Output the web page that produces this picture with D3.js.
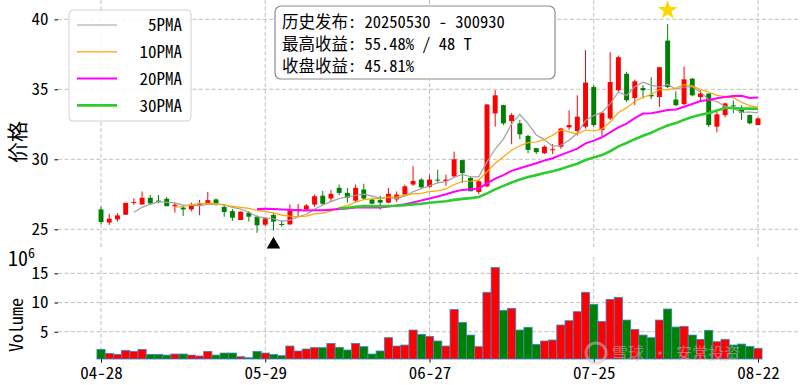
<!DOCTYPE html>
<html>
<head>
<meta charset="utf-8">
<script src="https://cdn.jsdelivr.net/npm/d3@7"></script>
<style>
  body { margin: 0; background: #fff; }
  svg { display: block; }
  text { font-family: "Noto Sans Mono CJK SC", "Noto Sans CJK SC", "DejaVu Sans", sans-serif; fill: #000; }
</style>
</head>
<body>
<svg id="chart" width="800" height="385"></svg>
<script>
"use strict";

// daily candles, 2025-04-28 .. 2025-08-22 (index = trading day)
const opens  = [26.42,25.48,25.71,26.04,26.90,26.77,27.25,27.05,27.18,26.65,26.55,26.42,26.75,26.80,27.13,26.60,26.30,25.66,26.18,25.90,
                25.33,26.02,25.38,25.35,26.35,26.42,26.77,27.40,27.20,27.96,27.60,27.05,27.84,27.13,27.10,26.90,27.13,27.48,28.20,28.55,
                28.03,28.55,28.45,28.78,29.94,28.67,27.67,28.07,33.28,33.87,32.73,32.57,31.67,30.80,30.44,30.65,30.90,32.28,32.02,32.33,
                35.16,32.09,32.92,34.93,36.11,34.38,35.09,34.60,34.45,38.48,34.27,33.94,35.76,34.45,34.70,32.33,33.16,33.85,33.63,33.16,32.45];
const highs  = [26.60,26.10,26.15,26.90,27.22,27.70,27.45,27.45,27.30,26.90,26.70,26.90,27.10,27.67,27.20,26.80,26.45,26.26,26.30,26.00,
                25.87,26.20,25.65,26.77,26.80,26.80,27.48,27.74,27.80,28.20,27.95,28.20,28.25,27.25,27.40,27.95,27.70,28.20,29.50,28.65,
                28.90,29.26,28.90,30.55,29.94,28.80,28.55,33.92,34.93,33.90,33.30,32.80,31.74,30.80,30.99,31.10,32.25,33.50,34.57,37.80,
                35.30,33.32,37.65,37.40,36.25,35.70,35.30,35.87,36.60,39.66,34.86,36.63,35.80,34.93,34.70,33.40,34.05,34.20,33.85,33.20,33.00];
const lows   = [25.35,25.30,25.55,26.04,26.75,26.77,26.84,26.85,26.65,26.20,25.95,26.28,26.00,26.75,26.70,25.90,25.60,25.66,25.55,24.75,
                25.23,24.90,25.20,25.30,25.95,26.35,26.60,26.70,26.95,27.45,26.90,26.95,27.10,26.78,26.40,26.85,26.95,27.48,28.10,27.95,
                27.97,28.30,28.10,28.70,28.31,27.72,27.50,28.00,32.33,32.45,31.08,31.45,30.43,30.38,30.38,30.37,30.75,32.10,31.70,32.20,
                32.30,31.67,32.80,34.80,34.10,33.87,34.34,34.30,33.74,35.10,33.80,33.87,34.50,34.22,32.30,31.93,33.00,33.30,32.80,32.50,32.45];
const closes = [25.52,25.76,25.99,26.89,26.95,27.25,26.84,26.95,26.65,26.75,26.42,26.75,26.85,27.08,26.84,26.23,25.83,26.26,25.90,25.28,
                25.78,25.55,25.33,26.35,26.45,26.70,27.36,26.82,27.53,27.60,27.25,27.96,27.20,26.83,26.90,27.53,27.48,28.07,28.45,28.00,
                28.55,28.48,28.55,30.00,29.02,27.72,28.43,33.92,34.57,32.57,33.16,31.79,30.67,30.51,30.90,30.72,32.20,32.45,33.04,35.48,
                32.45,33.32,35.52,37.29,34.22,35.57,34.93,34.50,36.58,35.16,33.87,35.71,34.57,34.70,32.45,33.21,33.99,33.80,33.32,32.57,32.92];
// volume in 10^6 shares
const volumes = [1.98,1.30,1.13,1.80,1.64,1.98,1.13,1.13,1.00,1.18,1.18,1.00,0.84,1.64,1.00,1.35,1.35,0.72,0.55,1.64,
                 1.35,1.10,0.90,2.55,1.70,2.04,2.27,2.27,3.00,2.33,1.87,3.00,2.44,1.18,1.70,3.98,2.55,2.72,5.29,4.55,
                 4.20,3.41,2.55,8.83,6.60,4.43,2.44,11.75,16.00,8.66,9.00,5.29,5.75,2.84,3.41,3.58,6.15,6.89,8.43,11.75,
                 9.69,6.78,10.55,10.89,7.00,5.41,4.43,3.98,7.00,8.89,5.80,5.92,4.43,3.70,5.24,3.29,3.70,2.72,2.89,2.50,2.16];

const tickIndex = [0, 20, 40, 60, 80];
const tickLabels = ["04-28", "05-29", "06-27", "07-25", "08-22"];
const priceTicks = [25, 30, 35, 40];
const volumeTicks = [5, 10, 15];

const maWindows = [5, 10, 20, 30];
const maNames = ["5PMA", "10PMA", "20PMA", "30PMA"];
const maColors = ["#a0a0a0", "#ffa500", "#ff00ff", "#2ecc2e"];
const maWidths = [1.2, 1.2, 2, 2.6];

const buyIndex = 21;   // 05-30 release date
const peakIndex = 69;  // highest gain day
const infoLines = ["历史发布: 20250530 - 300930", "最高收益: 55.48% / 48 T", "收盘收益: 45.81%"];

const svg = d3.select("#chart");
const left = 58, right = 801;
const priceTop = 0, priceBottom = 250;
const volTop = 257, volBottom = 359;

const x = d3.scaleLinear().domain([-5.24, 85.24]).range([left, right]);
const yPrice = d3.scaleLinear().domain([23.52, 41.38]).range([priceBottom, priceTop]);
const yVol = d3.scaleLinear().domain([0.33, 17.8]).range([volBottom, volTop]);
const step = x(1) - x(0);

const up = i => closes[i] >= opens[i];
const red = "#ff0000", green = "#008000";
const gridColor = "#b8b8b8";

// grid lines
const grid = svg.append("g").attr("stroke", gridColor).attr("stroke-dasharray", "4,2.4").attr("stroke-width", 0.9);
tickIndex.forEach(t => {
  grid.append("line").attr("x1", x(t)).attr("x2", x(t)).attr("y1", priceTop).attr("y2", priceBottom);
  grid.append("line").attr("x1", x(t)).attr("x2", x(t)).attr("y1", volTop).attr("y2", volBottom);
});
priceTicks.forEach(p => grid.append("line").attr("x1", left).attr("x2", right).attr("y1", yPrice(p)).attr("y2", yPrice(p)));
volumeTicks.forEach(v => grid.append("line").attr("x1", left).attr("x2", right).attr("y1", yVol(v)).attr("y2", yVol(v)));

// y axes (tick marks + labels, no spine)
let axPrice = svg.append("g").attr("transform", `translate(${left},0)`)
  .call(d3.axisLeft(yPrice).tickValues(priceTicks).tickSize(3.5).tickPadding(6));
let axVol = svg.append("g").attr("transform", `translate(${left},0)`)
  .call(d3.axisLeft(yVol).tickValues(volumeTicks).tickSize(3.5).tickPadding(6));
let axX = svg.append("g").attr("transform", `translate(0,${volBottom})`)
  .call(d3.axisBottom(x).tickValues(tickIndex).tickFormat((d, i) => tickLabels[i]).tickSize(3.5).tickPadding(4));
[axPrice, axVol, axX].forEach(a => {
  a.select(".domain").remove();
  a.selectAll("text").attr("font-size", 17).style("font-family", null);
  a.selectAll("line").attr("stroke", "#000");
});

// volume bars
svg.append("g").selectAll("rect")
  .data(volumes)
  .enter()
  .append("rect")
  .attr("x", (d, i) => x(i) - step / 2)
  .attr("width", step)
  .attr("y", d => yVol(d))
  .attr("height", d => volBottom - yVol(d))
  .attr("fill", (d, i) => up(i) ? red : green)
  .attr("stroke", "#3a86c8")
  .attr("stroke-width", 0.8);

// candles
const candles = svg.append("g").selectAll("g")
  .data(d3.range(closes.length))
  .enter()
  .append("g")
  .attr("stroke", i => up(i) ? red : green)
  .attr("fill", i => up(i) ? red : green);
candles.append("line")
  .attr("x1", i => x(i)).attr("x2", i => x(i))
  .attr("y1", i => yPrice(highs[i])).attr("y2", i => yPrice(lows[i]))
  .attr("stroke-width", 1);
candles.append("rect")
  .attr("x", i => x(i) - step * 0.3)
  .attr("width", step * 0.6)
  .attr("y", i => yPrice(Math.max(opens[i], closes[i])))
  .attr("height", i => Math.max(1, Math.abs(yPrice(opens[i]) - yPrice(closes[i]))))
  .attr("stroke", "none");

// moving averages of the close
maWindows.forEach((w, k) => {
  let pts = [];
  for (let i = w - 1; i < closes.length; i++) {
    pts.push([i, d3.mean(closes.slice(i - w + 1, i + 1))]);
  }
  svg.append("path")
    .attr("d", d3.line().x(d => x(d[0])).y(d => yPrice(d[1]))(pts))
    .attr("fill", "none")
    .attr("stroke", maColors[k])
    .attr("stroke-width", maWidths[k]);
});

// markers: release day and best day
svg.append("path")
  .attr("d", d3.symbol(d3.symbolTriangle, 80)())
  .attr("transform", `translate(${x(buyIndex)},${yPrice(lows[buyIndex] * 0.96)})`)
  .attr("fill", "#000");
svg.append("path")
  .attr("d", d3.symbol(d3.symbolStar, 120)())
  .attr("transform", `translate(${x(peakIndex)},${yPrice(highs[peakIndex] * 1.025)})`)
  .attr("fill", "#ffd700");

// legend
const legend = svg.append("g");
legend.append("rect").attr("x", 69).attr("y", 10).attr("width", 122).attr("height", 111)
  .attr("rx", 4).attr("fill", "#fff").attr("fill-opacity", 0.85).attr("stroke", "#d0d0d0");
maNames.forEach((n, k) => {
  let ly = 25 + k * 26.8;
  legend.append("line").attr("x1", 77).attr("x2", 117).attr("y1", ly).attr("y2", ly)
    .attr("stroke", maColors[k]).attr("stroke-width", maWidths[k]);
  legend.append("text").attr("x", 182).attr("y", ly).attr("dy", "0.36em")
    .attr("text-anchor", "end").attr("font-size", 17).text(n);
});

// info box
const info = svg.append("g");
info.append("rect").attr("x", 275).attr("y", 6).attr("width", 280).attr("height", 73)
  .attr("rx", 6).attr("fill", "#fff").attr("stroke", "#8c8c8c").attr("stroke-width", 1.2);
infoLines.forEach((t, k) => {
  info.append("text").attr("x", 282).attr("y", 22 + k * 22).attr("dy", "0.36em")
    .attr("font-size", 16.5).text(t);
});

// axis titles
svg.append("text").attr("transform", "translate(25,142) rotate(-90)")
  .attr("text-anchor", "middle").attr("font-size", 21).text("价格");
svg.append("text").attr("transform", "translate(23,325) rotate(-90)")
  .attr("text-anchor", "middle").attr("font-size", 18).text("Volume");
const off = svg.append("text").attr("x", 8).attr("y", 266).attr("font-size", 20);
off.append("tspan").text("10");
off.append("tspan").attr("dy", -8).attr("font-size", 14).text("6");

// watermark
const wm = svg.append("g").attr("opacity", 0.5);
wm.append("circle").attr("cx", 596).attr("cy", 353).attr("r", 10)
  .attr("fill", "none").attr("stroke", "#c8c8c8").attr("stroke-width", 3);
wm.append("text").attr("x", 612).attr("y", 353).attr("dy", "0.36em")
  .attr("font-size", 16).style("fill", "#c8c8c8").text("雪球 · 安常投资");
</script>
</body>
</html>
